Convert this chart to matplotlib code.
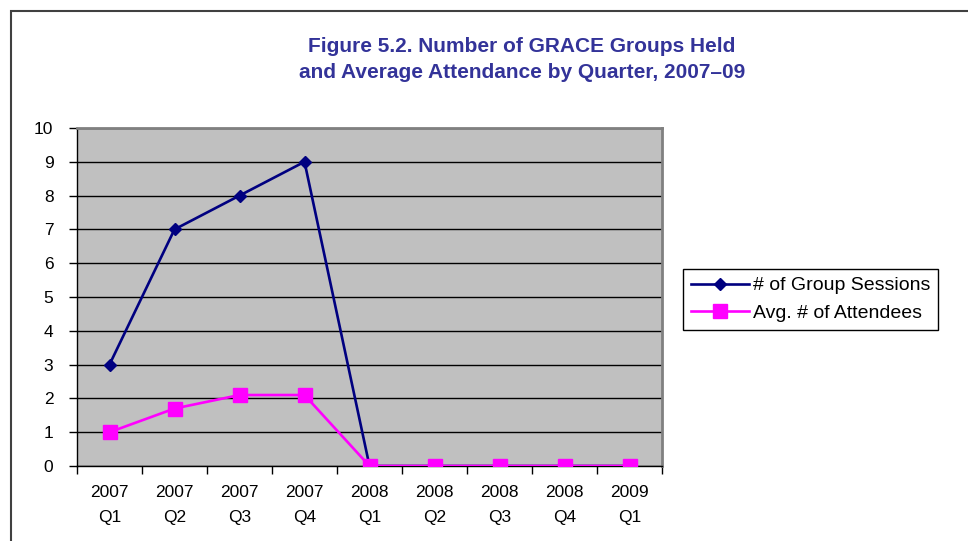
import matplotlib.pyplot as plt
from matplotlib.patches import Rectangle
from matplotlib.lines import Line2D

# data
quarters = ['2007\nQ1', '2007\nQ2', '2007\nQ3', '2007\nQ4', '2008\nQ1',
            '2008\nQ2', '2008\nQ3', '2008\nQ4', '2009\nQ1']
sessions = [3, 7, 8, 9, 0, 0, 0, 0, 0]
attendees = [1, 1.7, 2.1, 2.1, 0, 0, 0, 0, 0]

plt.rcParams['font.family'] = ['Liberation Sans', 'DejaVu Sans']

W, H = 968, 541
fig = plt.figure(figsize=(W / 100, H / 100), dpi=100)

# buitenrand van de grafiek
fig.patches.append(Rectangle((11 / W, -0.1), 1.2, 1.1 - 11 / H, transform=fig.transFigure,
                             fill=False, edgecolor='#404040', linewidth=1.5))

ax = fig.add_axes([77 / W, 1 - 466 / H, (662 - 77) / W, (466 - 128) / H])
ax.set_facecolor('#C0C0C0')

x = list(range(len(quarters)))
ax.plot(x, sessions, color='#000080', linewidth=1.9, marker='D', markersize=6.5,
        label='# of Group Sessions', zorder=3)
ax.plot(x, attendees, color='#FF00FF', linewidth=1.9, marker='s', markersize=10,
        label='Avg. # of Attendees', zorder=4)

ax.set_xlim(-0.5, len(quarters) - 0.5)
ax.set_ylim(0, 10)
ax.set_yticks(range(0, 11))
ax.yaxis.grid(True, color='black', linewidth=1)
ax.set_axisbelow(True)

ax.set_xticks(x)
ax.set_xticklabels(quarters, fontsize=12.5, linespacing=1.8)
ax.set_xticks([i - 0.5 for i in range(len(quarters) + 1)], minor=True)
ax.tick_params(axis='x', which='major', length=0, pad=14)
ax.tick_params(axis='x', which='minor', length=6, width=1, direction='out')
ax.tick_params(axis='y', length=6, width=1, direction='out', pad=11, labelsize=12.5)

for side in ['top', 'right']:
    ax.spines[side].set_color('#808080')
    ax.spines[side].set_linewidth(2)
for side in ['left', 'bottom']:
    ax.spines[side].set_color('black')
    ax.spines[side].set_linewidth(1)

# titel
fig.text(522 / W, 1 - 47 / H, 'Figure 5.2. Number of GRACE Groups Held',
         ha='center', va='center', fontsize=15, fontweight='bold', color='#333399')
fig.text(522 / W, 1 - 73 / H, 'and Average Attendance by Quarter, 2007\u201309',
         ha='center', va='center', fontsize=15, fontweight='bold', color='#333399')

# legenda
handles = [Line2D([], [], color='#000080', linewidth=1.9, marker='D', markersize=6.5),
           Line2D([], [], color='#FF00FF', linewidth=1.9, marker='s', markersize=10)]
leg = fig.legend(handles, ['# of Group Sessions', 'Avg. # of Attendees'],
                 loc='upper left', bbox_to_anchor=(683 / W, 1 - 269 / H),
                 fontsize=14, handlelength=3.0, handletextpad=0.2, labelspacing=0.5,
                 borderpad=0.4, borderaxespad=0, fancybox=False, framealpha=1,
                 edgecolor='black')
leg.get_frame().set_linewidth(1)

plt.savefig('out.png', dpi=100)
